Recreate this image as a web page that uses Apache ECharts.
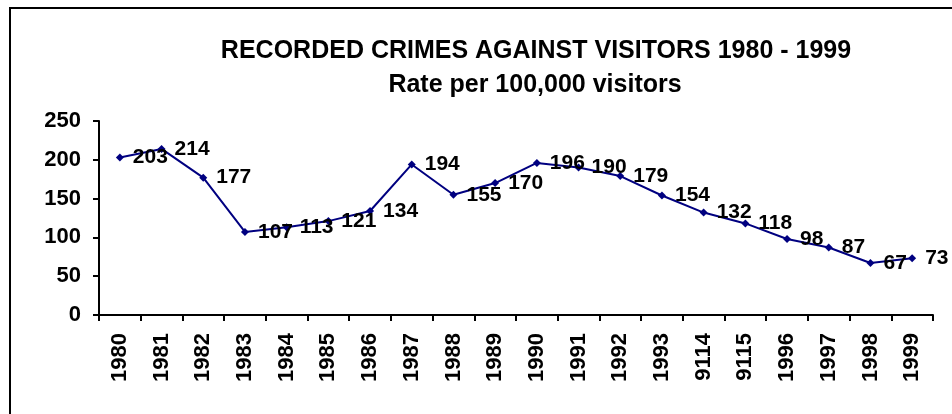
<!DOCTYPE html>
<html>
<head>
<meta charset="utf-8">
<script src="https://cdn.jsdelivr.net/npm/echarts@6/dist/echarts.min.js"></script>
<style>html,body{margin:0;padding:0;background:#fff}#c{width:952px;height:414px}</style>
</head>
<body>
<div id="c"></div>
<script>
const titleLine1 = 'RECORDED CRIMES AGAINST VISITORS 1980 - 1999';
const titleLine2 = 'Rate per 100,000 visitors';
const categories = ['1980','1981','1982','1983','1984','1985','1986','1987','1988','1989','1990','1991','1992','1993','9114','9115','1996','1997','1998','1999'];
const rates = [203,214,177,107,113,121,134,194,155,170,196,190,179,154,132,118,98,87,67,73];
const yTicks = [0,50,100,150,200,250];

const chart = echarts.init(document.getElementById('c'), null, {renderer:'canvas'});
const font = 'Arial, "Liberation Sans", sans-serif';
chart.setOption({
  animation:false,
  backgroundColor:'#fff',
  graphic:[{type:'rect',shape:{x:10,y:8,width:1000,height:500},style:{fill:'none',stroke:'#000',lineWidth:2},silent:true}],
  title:[
    {text:titleLine1,left:531,top:34,textAlign:'center',textStyle:{fontFamily:font,fontWeight:'bold',fontSize:25,color:'#000'}},
    {text:titleLine2,left:530,top:68,textAlign:'center',textStyle:{fontFamily:font,fontWeight:'bold',fontSize:25,color:'#000'}}
  ],
  grid:{left:99,right:19,top:121,bottom:99,containLabel:false},
  xAxis:{type:'category',data:categories,boundaryGap:true,
    axisLine:{lineStyle:{color:'#000',width:2}},
    axisTick:{show:true,length:6,lineStyle:{color:'#000',width:2},alignWithLabel:false},
    axisLabel:{rotate:90,interval:0,margin:18,fontFamily:font,fontWeight:'bold',fontSize:22,color:'#000'}},
  yAxis:{type:'value',min:yTicks[0],max:yTicks[yTicks.length-1],interval:50,
    axisLine:{show:true,lineStyle:{color:'#000',width:2}},
    axisTick:{show:true,length:6,lineStyle:{color:'#000',width:2}},
    splitLine:{show:false},
    axisLabel:{margin:18,fontFamily:font,fontWeight:'bold',fontSize:22,color:'#000'}},
  series:[{type:'line',data:rates,symbol:'diamond',symbolSize:8,
    lineStyle:{color:'#000080',width:2},itemStyle:{color:'#000080'},
    label:{show:true,position:'right',distance:9,fontFamily:font,fontWeight:'bold',fontSize:21,color:'#000'}}]
});
</script>
</body>
</html>
